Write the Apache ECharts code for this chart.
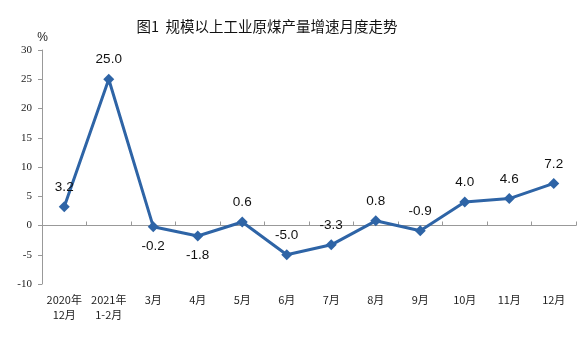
<!DOCTYPE html>
<html><head><meta charset="utf-8">
<script src="https://cdn.jsdelivr.net/npm/echarts@6/dist/echarts.min.js"></script>
<style>html,body{margin:0;padding:0;background:#fff}#c{width:580px;height:357px}</style>
</head><body><div id="c"></div>
<script>
const categories = ['2020年\n12月','2021年\n1-2月','3月','4月','5月','6月','7月','8月','9月','10月','11月','12月'];
const values = [3.2, 25.0, -0.2, -1.8, 0.6, -5.0, -3.3, 0.8, -0.9, 4.0, 4.6, 7.2];
const labelBelow = [false, false, true, true, false, false, false, false, false, false, false, false];
const titleText = '图1  规模以上工业原煤产量增速月度走势';

const chart = echarts.init(document.getElementById('c'));
chart.setOption({
  animation: false,
  backgroundColor: '#fff',
  title: { text: titleText, left: 262, top: 14, textAlign: 'center',
    textStyle: { fontSize: 14.5, fontWeight: 'normal', color: '#111', fontFamily: 'Noto Sans CJK SC' } },
  grid: { left: 42, right: 4, top: 50, bottom: 73 },
  xAxis: {
    type: 'category', data: categories, boundaryGap: true,
    axisLine: { lineStyle: { color: '#999', width: 1 } },
    axisTick: { show: true, inside: true, length: 4, lineStyle: { color: '#999' } },
    axisLabel: { color: '#222', fontSize: 11, fontFamily: 'Noto Sans CJK SC', margin: 8, lineHeight: 15, interval: 0 }
  },
  yAxis: {
    type: 'value', min: -10, max: 30, interval: 5,
    name: '%', nameLocation: 'end', nameGap: 6,
    nameTextStyle: { color: '#222', fontSize: 12, align: 'right', padding: [0, -6, 0, 0] },
    axisLine: { show: true, lineStyle: { color: '#999' } },
    axisTick: { show: true, length: 4, lineStyle: { color: '#999' } },
    splitLine: { show: false },
    axisLabel: { color: '#222', fontSize: 11, fontFamily: 'Liberation Serif', margin: 10 }
  },
  series: [{
    type: 'line', data: values.map((v, i) => ({ value: v, label: { position: labelBelow[i] ? 'bottom' : 'top' } })),
    symbol: 'diamond', symbolSize: 11,
    lineStyle: { color: '#2E64A6', width: 3 },
    itemStyle: { color: '#2E64A6' },
    label: { show: true, distance: 7, fontSize: 13.5, color: '#111', fontFamily: 'Liberation Sans',
      formatter: p => p.value.toFixed(1) }
  }]
});
</script></body></html>
